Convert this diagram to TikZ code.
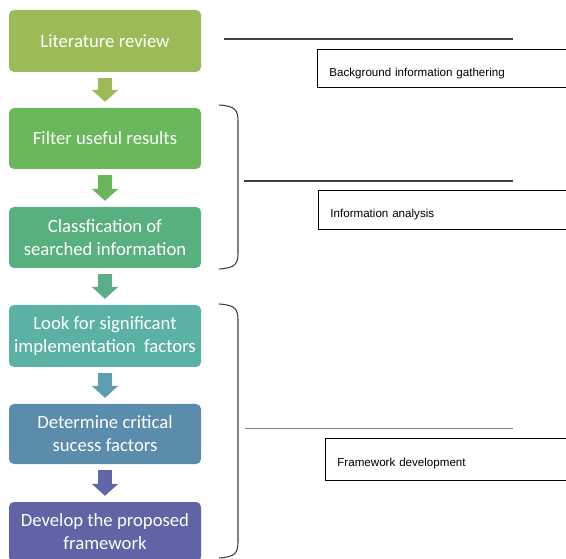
\documentclass[tikz,border=0pt]{standalone}
\usepackage{fontspec}
\setmainfont{Carlito}
\newfontfamily\arialf{Liberation Sans}
\usetikzlibrary{arrows.meta}
\definecolor{c1}{HTML}{9BBB59}
\definecolor{c2}{HTML}{6BB75B}
\definecolor{c3}{HTML}{58B07E}
\definecolor{c4}{HTML}{5BB2A4}
\definecolor{c5}{HTML}{5C8CAC}
\definecolor{c6}{HTML}{6063A6}
\definecolor{a1}{HTML}{9BBB59}
\definecolor{a2}{HTML}{6AB55B}
\definecolor{a3}{HTML}{5BAE88}
\definecolor{a4}{HTML}{5B9FB0}
\definecolor{a5}{HTML}{6068AA}
\definecolor{brc}{HTML}{404040}
\tikzset{
  stepbox/.style={rectangle, rounded corners=5pt, minimum width=192pt, text=white,
    font=\fontsize{18.7}{23}\selectfont, align=center, inner sep=0pt},
  blockarr/.style={line width=14pt, -{Triangle[length=12pt,width=26pt]}, shorten <=6pt, shorten >=6pt},
  phasebox/.style={draw=black, line width=0.8pt, rectangle, anchor=north west, minimum width=260pt,
    inner xsep=12pt, text width=236pt, align=left, font=\arialf\fontsize{11.6}{13}\selectfont},
  brace/.style={draw=brc, line width=1.1pt},
  rule/.style={draw=brc, line width=1.1pt}
}
\begin{document}
\begin{tikzpicture}[x=1pt,y=-1pt]
\useasboundingbox (0,0) rectangle (566,559);
\fill[white] (0,0) rectangle (566,559);
% step boxes
\node[stepbox, fill=c1, minimum height=62pt] (b1) at (105,41) {Literature review};
\node[stepbox, fill=c2, minimum height=61pt] (b2) at (105,138.5) {Filter useful results};
\node[stepbox, fill=c3, minimum height=61pt] (b3) at (105,237.5) {Classfication of\\searched information};
\node[stepbox, fill=c4, minimum height=62pt] (b4) at (105,336) {Look for significant\\implementation\ \ factors};
\node[stepbox, fill=c5, minimum height=60pt] (b5) at (105,434) {Determine critical\\sucess factors};
\node[stepbox, fill=c6, minimum height=60pt] (b6) at (105,532) {Develop the proposed\\framework};
% block arrows
\draw[blockarr, a1] (b1.south) -- (b2.north);
\draw[blockarr, a2] (b2.south) -- (b3.north);
\draw[blockarr, a3] (b3.south) -- (b4.north);
\draw[blockarr, a4] (b4.south) -- (b5.north);
\draw[blockarr, a5] (b5.south) -- (b6.north);
% braces
\draw[brace] (219,105) .. controls (235,106) and (238,110) .. (238,121) -- (238,253) .. controls (238,264) and (235,268) .. (219,269);
\draw[brace] (219,304) .. controls (235,305) and (238,309) .. (238,320) -- (238,542) .. controls (238,553) and (235,557) .. (219,558);
% rules
\coordinate (l1a) at (224,39); \coordinate (l1b) at (513,39);
\coordinate (l2a) at (244,181); \coordinate (l2b) at (513,181);
\coordinate (l3a) at (245,428); \coordinate (l3b) at (513,428);
\draw[rule] (l1a) -- (l1b);
\draw[rule] (l2a) -- (l2b);
\draw[rule, draw=gray, line width=0.7pt] (l3a) -- (l3b);
% phase boxes
\node[phasebox, minimum height=38pt] (p1) at (317,49) {\raisebox{-8pt}[0pt][0pt]{Background information gathering}};
\node[phasebox, minimum height=39pt] (p2) at (318,190) {\raisebox{-8pt}[0pt][0pt]{Information analysis}};
\node[phasebox, minimum height=42pt] (p3) at (325,438) {\raisebox{-7pt}[0pt][0pt]{Framework development}};
\end{tikzpicture}
\end{document}
